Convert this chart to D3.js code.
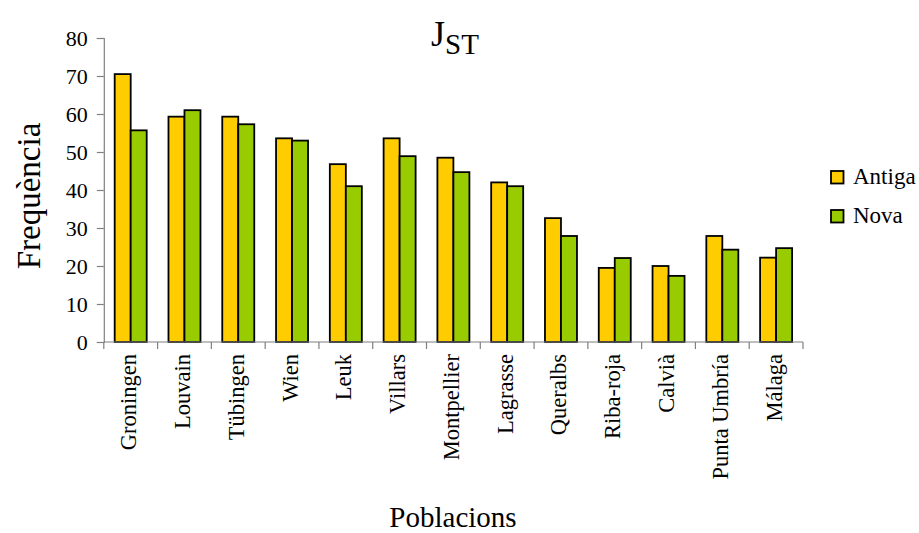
<!DOCTYPE html>
<html>
<head>
<meta charset="utf-8">
<script src="https://cdn.jsdelivr.net/npm/d3@7/dist/d3.min.js"></script>
<style>
  html, body { margin: 0; padding: 0; background: #fff; }
  svg { display: block; }
  svg text { font-family: "Liberation Serif", "Times New Roman", serif; fill: #000; }
</style>
</head>
<body>
<svg id="chart" width="919" height="533"></svg>
<script>
// Populations and J_ST frequencies for the old (Antiga) and new (Nova) samples
const categories = ["Groningen", "Louvain", "Tübingen", "Wien", "Leuk", "Villars",
  "Montpellier", "Lagrasse", "Queralbs", "Riba-roja", "Calvià", "Punta Umbría", "Málaga"];
const antiga = [70.5, 59.3, 59.3, 53.6, 46.8, 53.6, 48.5, 42.0, 32.6, 19.5, 20.0, 27.9, 22.2];
const nova   = [55.7, 61.0, 57.3, 53.0, 41.0, 48.9, 44.7, 41.0, 27.9, 22.1, 17.4, 24.3, 24.7];
const seriesNames = ["Antiga", "Nova"];
const seriesColors = ["#FFCC00", "#99CC00"];
const yTicks = [0, 10, 20, 30, 40, 50, 60, 70, 80];

(function () {
const svg = d3.select("#chart");
const plotLeft = 103.8, plotRight = 803, plotTop = 38, plotBottom = 342;

const x = d3.scaleBand().domain(categories).range([plotLeft, plotRight]).paddingInner(0).paddingOuter(0);
const inner = d3.scaleBand().domain(seriesNames).range([0, 32]);
const y = d3.scaleLinear().domain([0, 80]).range([plotBottom, plotTop]);

const rows = categories.map((c, i) => ({ cat: c, vals: [antiga[i], nova[i]] }));

// Bars
const groups = svg.append("g").selectAll("g").data(rows).join("g")
  .attr("transform", d => `translate(${x(d.cat) + (x.bandwidth() - 32) / 2},0)`);
groups.selectAll("rect").data(d => d.vals.map((v, j) => ({ v, j }))).join("rect")
  .attr("x", d => inner(seriesNames[d.j]))
  .attr("width", inner.bandwidth())
  .attr("y", d => y(d.v))
  .attr("height", d => y(0) - y(d.v))
  .attr("fill", d => seriesColors[d.j])
  .attr("stroke", "#000")
  .attr("stroke-width", 1.8);

// Y axis
const yAxis = svg.append("g").attr("transform", `translate(${plotLeft},0)`)
  .call(d3.axisLeft(y).tickValues(yTicks).tickSize(7).tickPadding(9));
yAxis.attr("font-family", null).attr("font-size", null);
yAxis.select(".domain").attr("stroke", "#808080").attr("stroke-width", 1.2);
yAxis.selectAll(".tick line").attr("stroke", "#808080").attr("stroke-width", 1.2);
yAxis.selectAll("text").style("font-size", "22px");

// X axis: tick marks between categories
const xAxisG = svg.append("g");
xAxisG.append("line").attr("x1", plotLeft).attr("x2", plotRight).attr("y1", plotBottom).attr("y2", plotBottom)
  .attr("stroke", "#808080").attr("stroke-width", 1.2);
const boundaries = categories.map(c => x(c)).concat([x(categories[categories.length - 1]) + x.bandwidth()]);
xAxisG.selectAll("line.tk").data(boundaries).join("line").attr("class", "tk")
  .attr("x1", d => d).attr("x2", d => d).attr("y1", plotBottom).attr("y2", plotBottom + 7)
  .attr("stroke", "#808080").attr("stroke-width", 1.2);
xAxisG.selectAll("text").data(categories).join("text")
  .attr("transform", d => `translate(${x(d) + x.bandwidth() / 2 + 5.5},${plotBottom + 12}) rotate(-90)`)
  .attr("text-anchor", "end")
  .style("font-size", "22.5px")
  .text(d => d);

// Title J_ST
const title = svg.append("text").attr("x", 431).attr("y", 46).style("font-size", "36px");
title.append("tspan").text("J");
title.append("tspan").style("font-size", "29px").attr("dy", 8).text("ST");

// Axis titles
svg.append("text").attr("transform", "translate(40,196) rotate(-90)")
  .attr("text-anchor", "middle").style("font-size", "33px").text("Frequència");
svg.append("text").attr("x", 453).attr("y", 527)
  .attr("text-anchor", "middle").style("font-size", "29px").text("Poblacions");

// Legend
const legend = svg.append("g").selectAll("g").data(seriesNames).join("g")
  .attr("transform", (d, i) => `translate(831,${171 + i * 39})`);
legend.append("rect").attr("width", 12.5).attr("height", 12.5)
  .attr("fill", (d, i) => seriesColors[i]).attr("stroke", "#000").attr("stroke-width", 1.8);
legend.append("text").attr("x", 22).attr("y", 12.5).style("font-size", "23px").text(d => d);
})();
</script>
</body>
</html>
